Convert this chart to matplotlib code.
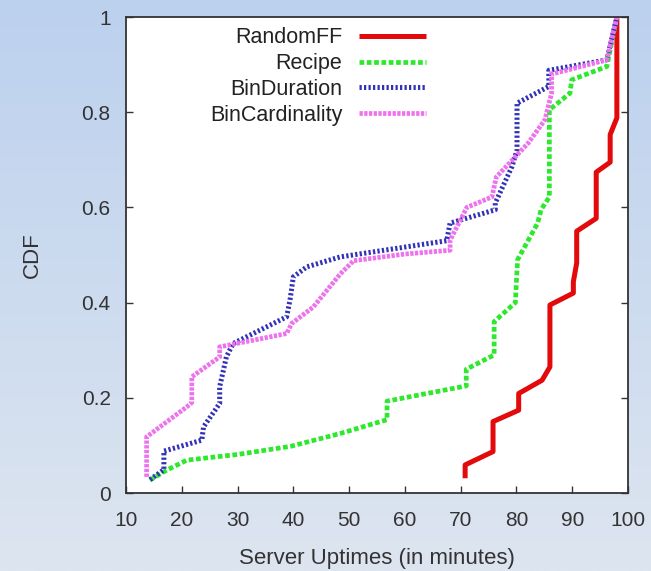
import numpy as np
import matplotlib
matplotlib.use('Agg')
import matplotlib.pyplot as plt
from matplotlib.colors import LinearSegmentedColormap

plt.rcParams['font.family'] = ['Liberation Sans', 'DejaVu Sans']

# CDF curves of server uptimes (minutes) for each packing policy
random_ff_x = [70.8, 70.8, 75.8, 75.8, 80.4, 80.4, 84.6, 86.0, 86.0, 90.2, 90.2,
               90.8, 90.8, 94.3, 94.3, 96.8, 96.8, 98.0, 98.0]
random_ff_y = [0.031, 0.059, 0.087, 0.15, 0.174, 0.209, 0.237, 0.265, 0.395, 0.42, 0.444,
               0.483, 0.55, 0.577, 0.674, 0.695, 0.753, 0.788, 1.0]

recipe_x = [14.3, 17.3, 20.9, 30.0, 39.5, 48.4, 56.8, 56.8, 71.0, 71.0, 76.0, 76.0,
            79.8, 80.2, 83.8, 84.4, 85.9, 85.9, 89.6, 89.9, 96.2, 98.0]
recipe_y = [0.027, 0.048, 0.069, 0.081, 0.098, 0.125, 0.154, 0.193, 0.225, 0.26, 0.29, 0.36,
            0.40, 0.49, 0.567, 0.595, 0.622, 0.805, 0.84, 0.868, 0.896, 1.0]

bin_duration_x = [14.3, 16.8, 16.8, 23.6, 23.9, 26.8, 26.8, 28.0, 29.2, 38.8, 39.4, 40.0,
                  42.4, 48.4, 67.5, 68.1, 76.2, 76.2, 79.2, 80.1, 80.1, 85.8, 85.8, 96.2, 98.0]
bin_duration_y = [0.028, 0.049, 0.088, 0.111, 0.139, 0.188, 0.223, 0.286, 0.314, 0.37, 0.405, 0.454,
                  0.475, 0.496, 0.53, 0.567, 0.595, 0.609, 0.686, 0.72, 0.819, 0.854, 0.888, 0.91, 1.0]

bin_card_x = [13.7, 13.7, 20.9, 21.8, 21.8, 26.8, 26.8, 38.8, 39.7, 43.6, 48.4, 50.8,
              60.0, 68.1, 68.1, 71.1, 75.6, 76.4, 82.1, 85.1, 86.3, 86.3, 96.2, 98.0]
bin_card_y = [0.034, 0.118, 0.181, 0.19, 0.244, 0.286, 0.307, 0.335, 0.356, 0.391, 0.46, 0.488,
              0.502, 0.51, 0.531, 0.60, 0.622, 0.664, 0.735, 0.784, 0.84, 0.88, 0.91, 1.0]

series = [
    ('RandomFF', random_ff_x, random_ff_y),
    ('Recipe', recipe_x, recipe_y),
    ('BinDuration', bin_duration_x, bin_duration_y),
    ('BinCardinality', bin_card_x, bin_card_y),
]
styles = {
    'RandomFF': dict(color='#e20a0a', linewidth=3.6, linestyle='-'),
    'Recipe': dict(color='#2ee82e', linewidth=3.4, linestyle=(0, (1.0, 0.55))),
    'BinDuration': dict(color='#3232b8', linewidth=3.6, linestyle=(0, (0.45, 0.45))),
    'BinCardinality': dict(color='#ee72ee', linewidth=3.4, linestyle=(0, (0.7, 0.3))),
}

fig = plt.figure(figsize=(6.51, 5.71), dpi=100)

# slide-style blue gradient behind the plot
bg = fig.add_axes([0, 0, 1, 1], zorder=-1)
cmap = LinearSegmentedColormap.from_list('bg', ['#dde5f0', '#bcd1ee'])
bg.imshow(np.linspace(0, 1, 256).reshape(-1, 1), aspect='auto', cmap=cmap,
          origin='lower', extent=[0, 1, 0, 1])
bg.axis('off')

ax = fig.add_axes([0.1935, 0.1366, 0.7712, 0.8336])
ax.set_facecolor('white')

for name, xs, ys in series:
    ax.plot(xs, ys, label=name, solid_capstyle='butt', dash_capstyle='butt', **styles[name])

ax.set_xlim(10, 100)
ax.set_ylim(0, 1)
ax.set_xticks(range(10, 101, 10))
ax.set_yticks([0, 0.2, 0.4, 0.6, 0.8, 1])
ax.set_yticklabels(['0', '0.2', '0.4', '0.6', '0.8', '1'])

for sp in ax.spines.values():
    sp.set_color('#333333')
    sp.set_linewidth(1.3)
ax.tick_params(direction='in', length=5, width=1, color='#333333',
               labelsize=15, labelcolor='#333333', right=True, top=False)
ax.tick_params(axis='x', pad=13)
ax.tick_params(axis='y', pad=11)

ax.set_xlabel('Server Uptimes (in minutes)', fontsize=16, color='#333333', labelpad=13)
ax.set_ylabel('CDF', fontsize=16, color='#333333', labelpad=28)

leg = ax.legend(loc='upper right', bbox_to_anchor=(0.598, 0.978), frameon=False,
                markerfirst=False, fontsize=15.5, handlelength=3.1, handletextpad=0.8,
                labelspacing=0.22, borderpad=0, borderaxespad=0)
for t in leg.get_texts():
    t.set_color('#222222')

fig.savefig('out.png', dpi=100)
